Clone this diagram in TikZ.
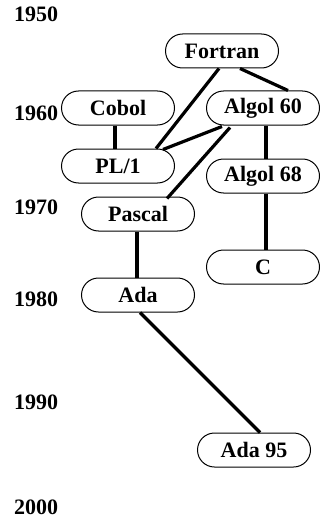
\documentclass[tikz,border=0pt]{standalone}
\usepackage{fontspec}
\setmainfont{Liberation Serif}
\usetikzlibrary{shapes.misc, positioning}
\tikzset{
  langbox/.style={
    rounded rectangle, draw, line width=1pt, minimum width=113pt,
    minimum height=34pt, inner sep=0pt, font=\fontsize{22}{26}\selectfont\bfseries
  },
  yearlabel/.style={
    anchor=west, inner sep=0pt, font=\fontsize{22}{26}\selectfont\bfseries
  },
  linkline/.style={
    line width=3.2pt
  }
}

\begin{document}
\begin{tikzpicture}[x=1pt, y=-1pt]
  \useasboundingbox (0,0) rectangle (320,524);

  \node[yearlabel] (y1950) at (14,14) {1950};
  \node[yearlabel] (y1960) at (14,113) {1960};
  \node[yearlabel] (y1970) at (14,207) {1970};
  \node[yearlabel] (y1980) at (14,299) {1980};
  \node[yearlabel] (y1990) at (14,402) {1990};
  \node[yearlabel] (y2000) at (14,507) {2000};

  \node[langbox] (fortran) at (222,51) {Fortran};
  \node[langbox] (cobol) at (118,108) {Cobol};
  \node[langbox] (algolSixty) at (263,108) {Algol 60};
  \node[langbox] (plOne) at (118,166) {PL/1};
  \node[langbox] (algolSixtyEight) at (263,176) {Algol 68};
  \node[langbox] (pascal) at (138,214) {Pascal};
  \node[langbox] (langC) at (263,267) {C};
  \node[langbox] (ada) at (138,295) {Ada};
  \node[langbox] (adaNinetyFive) at (254,450) {Ada 95};

  \draw[linkline] ([xshift=18pt]fortran.south) -- ([xshift=25pt]algolSixty.north);
  \draw[linkline] ([xshift=-3pt]fortran.south) -- ([xshift=38pt]plOne.north);
  \draw[linkline] ([xshift=-3pt]cobol.south) -- ([xshift=-3pt]plOne.north);
  \draw[linkline] ([xshift=-41pt,yshift=-1pt]algolSixty.south) -- ([xshift=45pt,yshift=-1pt]plOne.north);
  \draw[linkline] ([xshift=-33pt,yshift=-2pt]algolSixty.south) -- ([xshift=29pt,yshift=-2pt]pascal.north);
  \draw[linkline] ([xshift=3pt]algolSixty.south) -- ([xshift=3pt]algolSixtyEight.north);
  \draw[linkline] ([xshift=3pt]algolSixtyEight.south) -- ([xshift=3pt]langC.north);
  \draw[linkline] ([xshift=-1pt]pascal.south) -- ([xshift=-1pt]ada.north);
  \draw[linkline] ([xshift=2pt]ada.south) -- ([xshift=6pt]adaNinetyFive.north);
\end{tikzpicture}
\end{document}
